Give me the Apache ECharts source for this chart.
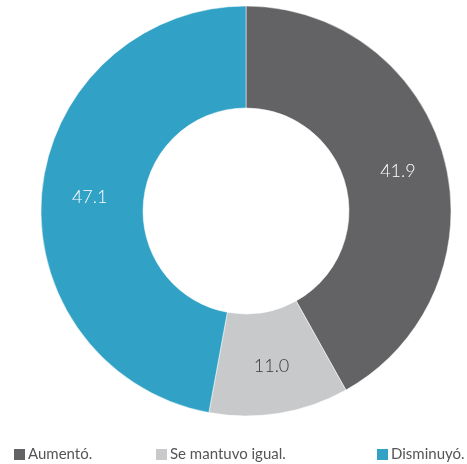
<!DOCTYPE html>
<html><head><meta charset="utf-8">
<script src="https://cdn.jsdelivr.net/npm/echarts@6/dist/echarts.min.js"></script>
<style>html,body{margin:0;padding:0;background:#fff}#c{width:467px;height:464px}</style>
</head><body><div id="c"></div>
<script>
const categories = ['Aumentó.', 'Se mantuvo igual.', 'Disminuyó.'];
const values = [41.9, 11.0, 47.1];
const colors = ['#636365', '#c8c9cb', '#31a2c5'];
const labelColors = ['#ffffff', '#3a3a3a', '#ffffff'];

const chart = echarts.init(document.getElementById('c'));
const legendLefts = [7, 149, 370];
const legends = categories.map((c, i) => ({
  data: [c], left: legendLefts[i], top: 442, orient: 'horizontal',
  itemWidth: 13, itemHeight: 13, itemGap: 0, icon: 'rect',
  textStyle: { fontSize: 15, color: '#555', fontFamily: 'Lato, sans-serif', padding: [0, 0, 0, -3] }
}));
chart.setOption({
  animation: false,
  color: colors,
  legend: legends,
  series: [{
    type: 'pie',
    center: [246, 211],
    radius: [103, 205],
    startAngle: 90,
    clockwise: true,
    avoidLabelOverlap: false,
    itemStyle: { borderColor: '#ffffff', borderWidth: 0.5 },
    label: {
      position: 'inside', fontSize: 18, fontFamily: 'Lato, sans-serif', fontWeight: 300,
      formatter: p => p.value.toFixed(1)
    },
    labelLine: { show: false },
    data: categories.map((c, i) => ({ name: c, value: values[i], label: { color: labelColors[i] } }))
  }]
});
</script></body></html>
